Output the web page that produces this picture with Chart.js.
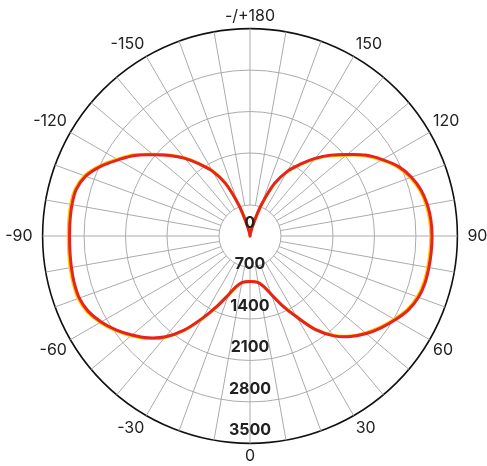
<!DOCTYPE html>
<html>
<head>
<meta charset="utf-8">
<script src="https://cdn.jsdelivr.net/npm/chart.js@4/dist/chart.umd.min.js"></script>
<style>
  html, body { margin: 0; padding: 0; background: #fff; overflow: hidden; }
  #wrap { width: 487px; height: 466px; overflow: hidden; position: relative; }
  #c { position: absolute; left: 0; top: 8px; }
</style>
</head>
<body>
<div id="wrap"><canvas id="c" width="493" height="458"></canvas></div>
<script>
// angles in degrees, clockwise from the top (180) through the right (90) to the bottom (0) and the left (-90)
var angulos = [180, 175, 170, 165, 160, 155, 150, 145, 140, 135, 130, 125, 120, 115, 110, 105, 100, 95,
    90, 85, 80, 75, 70, 65, 60, 55, 50, 45, 40, 35, 30, 25, 20, 15, 10, 5,
    0, -5, -10, -15, -20, -25, -30, -35, -40, -45, -50, -55, -60, -65, -70, -75, -80, -85,
    -90, -95, -100, -105, -110, -115, -120, -125, -130, -135, -140, -145, -150, -155, -160, -165, -170, -175];

// intensidade (cd) - curva vermelha
var curvaVermelha = [0, 10, 60, 200, 560, 980, 1260, 1480, 1710, 1930, 2140, 2380, 2580, 2770, 2900, 2990, 3040, 3065,
    3072, 3070, 3066, 3058, 3025, 2950, 2830, 2700, 2560, 2400, 2200, 1930, 1580, 1300, 1050, 880, 800, 775,
    770, 775, 800, 880, 1050, 1300, 1600, 1940, 2220, 2430, 2600, 2760, 2900, 3010, 3065, 3070, 3060, 3050,
    3045, 3048, 3050, 3035, 2950, 2780, 2570, 2370, 2130, 1920, 1710, 1480, 1260, 980, 560, 200, 60, 10];

// curva amarela (quase igual, levemente deslocada)
var curvaAmarela = [0, 10, 58, 195, 552, 970, 1249, 1468, 1696, 1915, 2123, 2362, 2561, 2750, 2879, 2969, 3018, 3043,
    3050, 3048, 3044, 3037, 3004, 2930, 2811, 2682, 2543, 2385, 2186, 1918, 1569, 1291, 1043, 875, 796, 773,
    770, 777, 804, 885, 1057, 1309, 1611, 1952, 2234, 2445, 2617, 2778, 2919, 3030, 3086, 3091, 3082, 3072,
    3067, 3070, 3072, 3056, 2971, 2800, 2589, 2388, 2147, 1935, 1724, 1492, 1271, 990, 568, 205, 62, 10];

var ticksRadiais = [0, 700, 1400, 2100, 2800, 3500];

var rotulos = angulos.map(function (a) {
    if (a === 180) return "-/+180";
    return a % 30 === 0 ? String(a) : "";
});

var CINZA = "#ababab";
var FONTE = "Inter, 'Noto Sans', sans-serif";

// circulo branco no centro (esconde as linhas de angulo)
var furoCentral = {
    id: "furoCentral",
    beforeDatasetsDraw: function (chart) {
        var s = chart.scales.r;
        var ctx = chart.ctx;
        ctx.save();
        ctx.beginPath();
        ctx.arc(s.xCenter, s.yCenter, 31, 0, Math.PI * 2);
        ctx.fillStyle = "#fff";
        ctx.fill();
        ctx.strokeStyle = CINZA;
        ctx.lineWidth = 1;
        ctx.stroke();
        ctx.restore();
    }
};

// rotulos de intensidade ao longo do eixo para baixo
var rotulosValores = {
    id: "rotulosValores",
    afterDatasetsDraw: function (chart) {
        var s = chart.scales.r;
        var ctx = chart.ctx;
        ctx.save();
        ctx.font = "bold 16px " + FONTE;
        ctx.fillStyle = "#222";
        ctx.textAlign = "center";
        ctx.textBaseline = "middle";
        ticksRadiais.forEach(function (v) {
            var y = s.yCenter + s.getDistanceFromCenterForValue(v) - 13;
            ctx.fillText(String(v), s.xCenter, y);
        });
        ctx.restore();
    }
};

new Chart(document.getElementById("c"), {
    type: "radar",
    data: {
        labels: rotulos,
        datasets: [{
            label: "vermelha",
            data: curvaVermelha,
            borderColor: "rgb(232, 34, 28)",
            borderWidth: 3,
            fill: false,
            pointRadius: 0,
            tension: 0.35
        }, {
            label: "amarela",
            data: curvaAmarela,
            borderColor: "rgb(248, 204, 0)",
            borderWidth: 3,
            fill: false,
            pointRadius: 0,
            tension: 0.35
        }]
    },
    options: {
        responsive: false,
        animation: false,
        plugins: {
            legend: { display: false },
            tooltip: { enabled: false }
        },
        scales: {
            r: {
                min: 0,
                max: 3500,
                startAngle: 0,
                ticks: { stepSize: 700, display: false },
                grid: {
                    circular: true,
                    color: function (c) {
                        if (c.tick && c.tick.value === 3500) return "#111";
                        if (c.tick && c.tick.value === 700) return "rgba(0,0,0,0)";
                        return CINZA;
                    },
                    lineWidth: function (c) {
                        return c.tick && c.tick.value === 3500 ? 1.6 : 1;
                    }
                },
                angleLines: {
                    color: function (c) { return c.index % 2 === 0 ? CINZA : "rgba(0,0,0,0)"; },
                    lineWidth: 1
                },
                pointLabels: {
                    color: "#222",
                    font: { family: FONTE, size: 16, lineHeight: 1.1 },
                    padding: function (c) {
                        if (c.index === 18 || c.index === 54) return 10;
                        return 4;
                    }
                }
            }
        }
    },
    plugins: [furoCentral, rotulosValores]
});
</script>
</body>
</html>
